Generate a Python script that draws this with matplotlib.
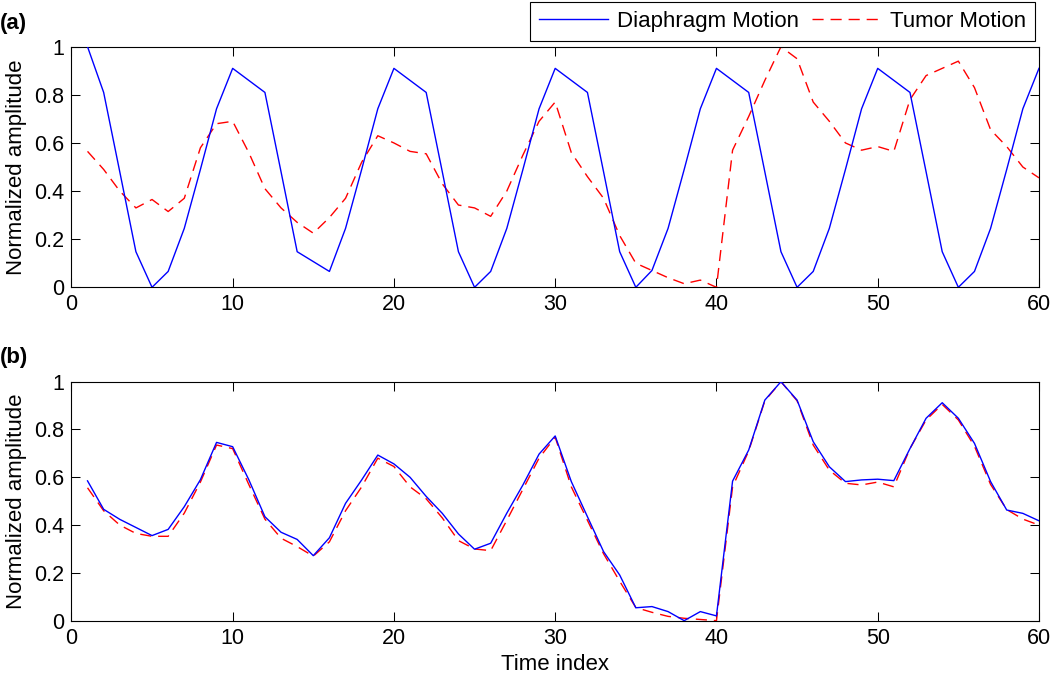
import numpy as np
import matplotlib
matplotlib.use("Agg")
import matplotlib.pyplot as plt

plt.rcParams['font.family'] = ['Liberation Sans', 'DejaVu Sans']

FONT = 16
TICKFONT = 15.5

# time index 1..60
t = np.arange(1, 61)

# (a) raw signals
diaphragm_a = [1.0, 0.81, 0.48, 0.148, 0.0, 0.066, 0.245, 0.49, 0.742, 0.91,
               0.86, 0.81, 0.48, 0.148, 0.107, 0.066, 0.245, 0.49, 0.742, 0.91,
               0.86, 0.81, 0.48, 0.148, 0.0, 0.066, 0.245, 0.49, 0.742, 0.91,
               0.86, 0.81, 0.48, 0.148, 0.0, 0.07, 0.245, 0.49, 0.742, 0.91,
               0.86, 0.81, 0.48, 0.148, 0.0, 0.066, 0.245, 0.49, 0.742, 0.91,
               0.86, 0.81, 0.48, 0.148, 0.0, 0.066, 0.245, 0.49, 0.742, 0.91]
tumor_a = [0.565, 0.49, 0.40, 0.33, 0.365, 0.315, 0.37, 0.58, 0.68, 0.69,
           0.56, 0.41, 0.33, 0.27, 0.225, 0.29, 0.37, 0.52, 0.63, 0.60,
           0.565, 0.555, 0.43, 0.342, 0.33, 0.295, 0.40, 0.55, 0.69, 0.77,
           0.56, 0.46, 0.37, 0.215, 0.10, 0.07, 0.04, 0.015, 0.03, 0.0,
           0.57, 0.71, 0.86, 1.0, 0.95, 0.77, 0.69, 0.60, 0.57, 0.585,
           0.565, 0.78, 0.88, 0.91, 0.94, 0.83, 0.655, 0.585, 0.50, 0.455]

# (b) after alignment
diaphragm_b = [0.585, 0.466, 0.424, 0.39, 0.356, 0.382, 0.477, 0.59, 0.746, 0.728,
               0.59, 0.435, 0.37, 0.34, 0.272, 0.347, 0.491, 0.589, 0.693, 0.656,
               0.60, 0.52, 0.449, 0.363, 0.299, 0.324, 0.45, 0.568, 0.697, 0.773,
               0.582, 0.435, 0.289, 0.191, 0.054, 0.059, 0.038, 0.0, 0.038, 0.02,
               0.584, 0.714, 0.923, 1.0, 0.923, 0.749, 0.644, 0.582, 0.589, 0.592,
               0.586, 0.72, 0.847, 0.912, 0.847, 0.742, 0.582, 0.463, 0.449, 0.418]
tumor_b = [0.556, 0.46, 0.40, 0.365, 0.353, 0.353, 0.45, 0.58, 0.735, 0.72,
           0.57, 0.425, 0.345, 0.31, 0.27, 0.33, 0.46, 0.56, 0.68, 0.645,
           0.56, 0.51, 0.43, 0.335, 0.30, 0.293, 0.42, 0.55, 0.68, 0.768,
           0.56, 0.42, 0.28, 0.165, 0.055, 0.035, 0.018, 0.01, 0.005, 0.0,
           0.56, 0.71, 0.92, 1.0, 0.92, 0.735, 0.63, 0.575, 0.568, 0.58,
           0.56, 0.72, 0.84, 0.905, 0.84, 0.73, 0.57, 0.465, 0.425, 0.40]

xticks = [0, 10, 20, 30, 40, 50, 60]
yticks = [0, 0.2, 0.4, 0.6, 0.8, 1]
yticklabels = ['0', '0.2', '0.4', '0.6', '0.8', '1']

fig = plt.figure(figsize=(10.5, 6.77), dpi=100)
ax1 = fig.add_axes([0.068, 0.5756, 0.9215, 0.3554])
ax2 = fig.add_axes([0.068, 0.0832, 0.9215, 0.3530])

for ax, d, tm in [(ax1, diaphragm_a, tumor_a), (ax2, diaphragm_b, tumor_b)]:
    ax.plot(t, tm, color='#ff0000', lw=1.0, dashes=(8, 5), label='Tumor Motion', zorder=2)
    ax.plot(t, d, color='#0000ff', lw=1.0, label='Diaphragm Motion', zorder=3)
    ax.set_xlim(0, 60)
    ax.set_ylim(0, 1)
    ax.set_xticks(xticks)
    ax.set_yticks(yticks)
    ax.set_yticklabels(yticklabels)
    ax.tick_params(direction='in', length=6.5, width=0.75, top=True, right=True,
                   labelsize=TICKFONT, pad=5)
    for s in ax.spines.values():
        s.set_linewidth(0.8)
        s.set_color('black')
    ax.set_ylabel('Normalized amplitude', fontsize=FONT)
    ax.yaxis.set_label_coords(-0.046, 0.5)

ax2.set_xlabel('Time index', fontsize=FONT)
ax2.xaxis.set_label_coords(0.5, -0.14)

fig.text(0.0, 1 - 24 / 677, '(a)', fontsize=FONT, fontweight='bold', ha='left', va='center')
fig.text(0.0, 1 - 358 / 677, '(b)', fontsize=FONT, fontweight='bold', ha='left', va='center')

h, l = ax1.get_legend_handles_labels()
leg = fig.legend(h[::-1], l[::-1], ncol=2, loc='upper right',
                 bbox_to_anchor=(1035 / 1050, 1 - 2 / 677), fontsize=FONT,
                 frameon=True, fancybox=False, edgecolor='black', framealpha=1,
                 handlelength=3.1, handletextpad=0.4, columnspacing=0.6,
                 borderpad=0.4, borderaxespad=0)
leg.get_frame().set_linewidth(0.8)

fig.savefig('out.png', dpi=100)
